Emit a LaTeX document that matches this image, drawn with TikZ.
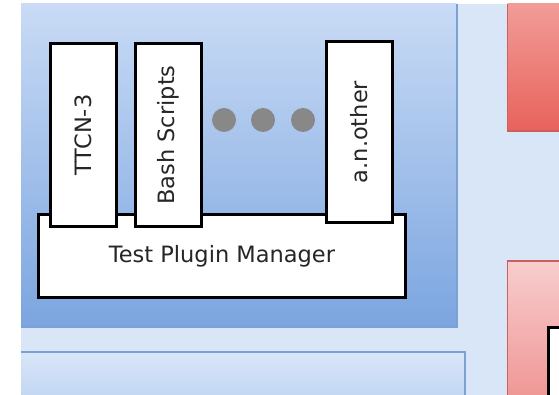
\documentclass[tikz,border=0pt]{standalone}
\usepackage{fontspec}
\usepackage{graphicx}
\setmainfont{DejaVu Sans}
\definecolor{bgblue}{HTML}{D9E6F8}
\definecolor{paneltop}{HTML}{C9DBF5}
\definecolor{panelbot}{HTML}{7BA5E0}
\definecolor{panelline}{HTML}{7C9FD4}
\definecolor{lowtop}{HTML}{D9E6F8}
\definecolor{lowbot}{HTML}{C4D7F3}
\definecolor{redtop}{HTML}{F19C97}
\definecolor{redbot}{HTML}{E8625C}
\definecolor{redline}{HTML}{C9605C}
\definecolor{pinktop}{HTML}{F8CDCD}
\definecolor{pinkbot}{HTML}{EF9896}
\definecolor{dotgray}{HTML}{888888}

\begin{document}
\begin{tikzpicture}[x=1pt, y=1pt,
    plugin/.style={draw, line width=3pt, fill=white, inner sep=0pt,
      minimum width=66pt, text=black!85, font=\fontsize{22.5}{27}\selectfont},
    manager/.style={draw, line width=3pt, fill=white, inner sep=0pt, text=black!85,
      minimum width=367pt, minimum height=83pt, font=\fontsize{22.5}{27}\selectfont},
    dot/.style={circle, fill=dotgray, minimum size=24pt, inner sep=0pt}]
    \useasboundingbox (0,0) rectangle (559,395);
    \fill[bgblue] (21,0) rectangle (559,391);

    % panels
    \shade[top color=paneltop, bottom color=panelbot] (21,68) rectangle (456.5,391);
    \draw[panelline, line width=2pt] (21,68) -- (456.5,68) -- (456.5,391);
    \shade[top color=lowtop, bottom color=lowbot] (21,0) rectangle (465,43);
    \draw[panelline, line width=2pt] (21,43) -- (465,43) -- (465,0);
    \shade[top color=redtop, bottom color=redbot] (507.5,264) rectangle (559,391);
    \draw[redline, line width=1.5pt] (507.5,391) -- (507.5,264) -- (559,264);
    \shade[top color=pinktop, bottom color=pinkbot] (507.5,0) rectangle (559,134);
    \draw[redline, line width=1.5pt] (559,134) -- (507.5,134) -- (507.5,0);
    \fill[white] (548.5,0) rectangle (559,67.5);
    \draw[line width=3pt] (559,67.5) -- (548.5,67.5) -- (548.5,0);

    % plugins on the manager
    \node[manager] (mgr) at (222,139) {Test Plugin Manager};
    \node[plugin, minimum height=183pt] (ttcn) at (83.5,260) {\rotatebox{90}{TTCN-3}};
    \node[plugin, minimum height=183pt] (bash) at (168,260) {\rotatebox{90}{Bash Scripts}};
    \node[plugin, minimum height=181pt] (other) at (359.5,263) {\rotatebox{90}{a.n.other}};

    \node[dot] (d1) at (224,275) {};
    \node[dot] (d2) at (263,275) {};
    \node[dot] (d3) at (303,275) {};
\end{tikzpicture}
\end{document}
